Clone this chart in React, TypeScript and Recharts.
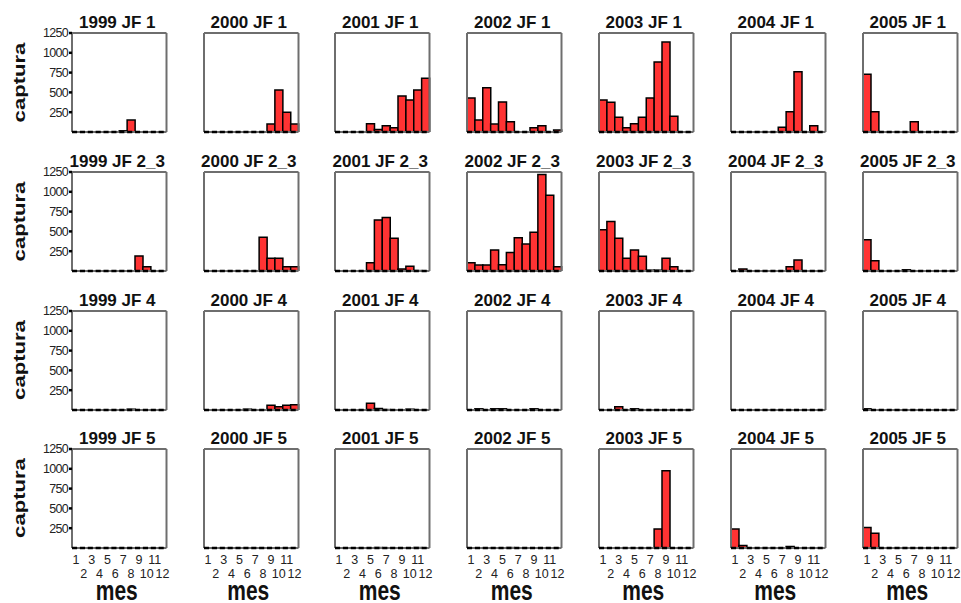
import React from 'react';
import { BarChart, Bar, XAxis, YAxis, ReferenceLine } from 'recharts';

const FONT = '"Liberation Sans", Arial, Helvetica, sans-serif';

const months = ['1', '2', '3', '4', '5', '6', '7', '8', '9', '10', '11', '12'];
const years = ['1999', '2000', '2001', '2002', '2003', '2004', '2005'];
const groups = ['JF 1', 'JF 2_3', 'JF 4', 'JF 5'];
const yTicks = [250, 500, 750, 1000, 1250];

// captura por mes, JF 1
const jf1_1999 = [0, 0, 0, 0, 0, 0, 15, 150, 0, 0, 0, 0];
const jf1_2000 = [0, 0, 0, 0, 0, 0, 0, 0, 100, 530, 250, 100];
const jf1_2001 = [0, 0, 0, 0, 105, 30, 80, 55, 455, 405, 530, 680];
const jf1_2002 = [430, 150, 560, 100, 380, 130, 0, 0, 55, 80, 0, 25];
const jf1_2003 = [405, 375, 185, 55, 105, 185, 430, 885, 1135, 200, 0, 0];
const jf1_2004 = [0, 0, 0, 0, 0, 0, 60, 255, 760, 0, 80, 0];
const jf1_2005 = [730, 255, 0, 0, 0, 0, 130, 0, 0, 0, 0, 0];

// JF 2_3
const jf23_1999 = [0, 0, 0, 0, 0, 0, 0, 0, 190, 55, 0, 0];
const jf23_2000 = [0, 0, 0, 0, 0, 0, 0, 425, 160, 160, 55, 55];
const jf23_2001 = [0, 0, 0, 0, 105, 645, 675, 415, 25, 60, 5, 0];
const jf23_2002 = [105, 75, 75, 265, 80, 235, 420, 340, 490, 1220, 955, 55];
const jf23_2003 = [520, 625, 415, 160, 265, 185, 10, 10, 160, 55, 0, 0];
const jf23_2004 = [0, 25, 0, 0, 0, 0, 0, 55, 140, 0, 0, 0];
const jf23_2005 = [395, 130, 0, 0, 0, 15, 0, 0, 0, 0, 0, 0];

// JF 4
const jf4_1999 = [0, 0, 0, 0, 0, 0, 0, 10, 0, 0, 0, 0];
const jf4_2000 = [0, 0, 0, 0, 0, 10, 0, 0, 60, 40, 60, 65];
const jf4_2001 = [0, 0, 0, 0, 85, 20, 5, 0, 0, 10, 0, 0];
const jf4_2002 = [0, 15, 0, 15, 15, 0, 0, 0, 15, 0, 0, 0];
const jf4_2003 = [0, 0, 40, 0, 15, 0, 0, 0, 0, 0, 0, 0];
const jf4_2004 = [0, 0, 0, 0, 0, 0, 0, 0, 0, 0, 0, 0];
const jf4_2005 = [15, 0, 0, 0, 0, 0, 0, 0, 0, 0, 0, 0];

// JF 5
const jf5_1999 = [0, 0, 0, 0, 0, 0, 0, 0, 0, 0, 0, 0];
const jf5_2000 = [0, 0, 0, 0, 0, 0, 0, 0, 0, 0, 0, 0];
const jf5_2001 = [0, 0, 0, 0, 0, 5, 0, 0, 0, 0, 5, 0];
const jf5_2002 = [0, 0, 0, 0, 0, 5, 0, 0, 0, 0, 0, 0];
const jf5_2003 = [0, 0, 0, 0, 0, 0, 0, 240, 975, 0, 0, 0];
const jf5_2004 = [240, 30, 0, 0, 0, 0, 0, 20, 0, 0, 0, 0];
const jf5_2005 = [260, 185, 0, 0, 0, 0, 0, 0, 0, 0, 0, 0];

const rows = [
  [jf1_1999, jf1_2000, jf1_2001, jf1_2002, jf1_2003, jf1_2004, jf1_2005],
  [jf23_1999, jf23_2000, jf23_2001, jf23_2002, jf23_2003, jf23_2004, jf23_2005],
  [jf4_1999, jf4_2000, jf4_2001, jf4_2002, jf4_2003, jf4_2004, jf4_2005],
  [jf5_1999, jf5_2000, jf5_2001, jf5_2002, jf5_2003, jf5_2004, jf5_2005],
];

// layout
const COL_X = [72, 203.5, 335, 467, 598.5, 730.5, 862.5];
const ROW_Y = [33, 172, 310.5, 448.5];
const PW = 94.5;
const PH = 99;
const AXIS_W = 40;
const TOP_PAD = 6;
const BAND = PW / 12;
const FRAME = '#6e6e6e';

const MonthTick = (props: any) => {
  const { x, y, payload } = props;
  const odd = Number(payload.value) % 2 === 1;
  return (
    <text x={x} y={y + (odd ? 16 : 30)} textAnchor="middle" fontSize={12.5} fill="#222">
      {payload.value}
    </text>
  );
};

function Panel({ values, row, col }: { values: number[]; row: number; col: number }) {
  const data = months.map((m, i) => ({ mes: m, captura: values[i] }));
  const bottom = row === rows.length - 1;
  const xh = bottom ? 36 : 4;

  return (
    <div style={{ position: 'absolute', left: COL_X[col] - AXIS_W, top: ROW_Y[row] - TOP_PAD }}>
      <BarChart
        width={AXIS_W + PW + 4}
        height={TOP_PAD + PH + xh}
        data={data}
        margin={{ top: TOP_PAD, right: 4, bottom: 0, left: 0 }}
        barCategoryGap={0}
        barGap={0}
      >
        <ReferenceLine y={0} stroke={FRAME} strokeWidth={2} />
        <ReferenceLine y={1250} stroke={FRAME} strokeWidth={2} />
        <ReferenceLine x="12" position="end" stroke={FRAME} strokeWidth={2} />
        <YAxis
          domain={[0, 1250]}
          ticks={yTicks}
          interval={0}
          allowDataOverflow
          width={AXIS_W}
          tickSize={3}
          tickMargin={1}
          axisLine={{ stroke: FRAME, strokeWidth: 2 }}
          tickLine={{ stroke: '#000', strokeWidth: 2.5 }}
          tick={col === 0 ? { fontSize: 12.5, fill: '#222', letterSpacing: -0.7 } : false}
        />
        <XAxis
          dataKey="mes"
          interval={0}
          height={xh}
          tickSize={0}
          tickMargin={0}
          tickLine={false}
          axisLine={{ stroke: '#000', strokeWidth: 2.5, strokeDasharray: `${BAND * 0.65} ${BAND * 0.35}` }}
          tick={bottom ? <MonthTick /> : false}
        />
        <Bar
          dataKey="captura"
          fill="#ff3333"
          stroke="#000"
          strokeWidth={1.5}
          isAnimationActive={false}
        />
      </BarChart>
    </div>
  );
}

export default function App() {
  return (
    <div
      style={{
        position: 'absolute',
        left: 0,
        top: 0,
        width: 961,
        height: 603,
        background: '#fff',
        fontFamily: FONT,
        overflow: 'hidden',
      }}
    >
      {rows.map((r, ri) => r.map((vals, ci) => <Panel key={`${ri}-${ci}`} values={vals} row={ri} col={ci} />))}
      <svg
        width={961}
        height={603}
        style={{ position: 'absolute', left: 0, top: 0, pointerEvents: 'none' }}
        fontFamily={FONT}
      >
        {groups.map((g, ri) =>
          years.map((y, ci) => (
            <text
              key={`t-${ri}-${ci}`}
              x={COL_X[ci] + PW / 2 - 2}
              y={ROW_Y[ri] - 5}
              textAnchor="middle"
              fontSize={17}
              fontWeight="bold"
              fill="#111"
            >
              {`${y} ${g}`}
            </text>
          ))
        )}
        {groups.map((g, ri) => (
          <text
            key={`c-${ri}`}
            transform={`translate(24.5, ${ROW_Y[ri] + PH / 2}) rotate(-90) scale(1.3, 1)`}
            textAnchor="middle"
            fontSize={17}
            fontWeight="bold"
            fill="#111"
          >
            captura
          </text>
        ))}
        {years.map((y, ci) => (
          <text
            key={`m-${ci}`}
            transform={`translate(${COL_X[ci] + PW / 2 - 2.5}, 599.5) scale(1, 1.3)`}
            textAnchor="middle"
            fontSize={21}
            fontWeight="bold"
            fill="#111"
          >
            mes
          </text>
        ))}
      </svg>
    </div>
  );
}
